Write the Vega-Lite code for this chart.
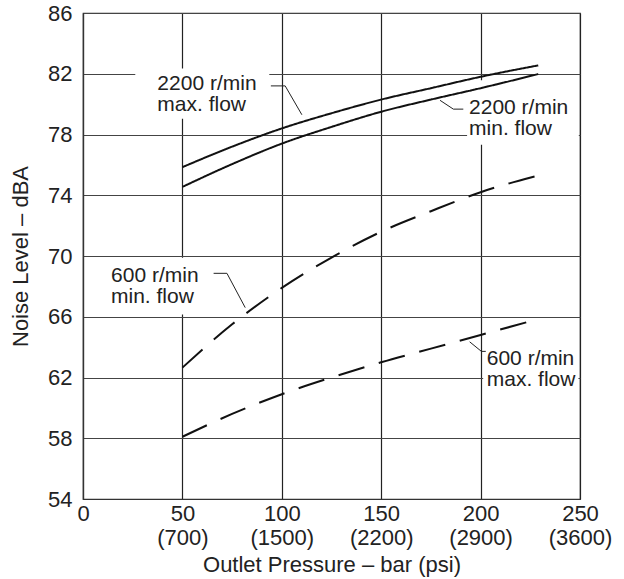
{
  "$schema": "https://vega.github.io/schema/vega-lite/v6.json",
  "width": 497,
  "height": 486,
  "autosize": "none",
  "padding": {"left": 83, "top": 13, "right": 44, "bottom": 80},
  "background": "white",
  "config": {
    "font": "Liberation Sans",
    "view": {"stroke": "#333", "strokeWidth": 1.2},
    "axis": {"labelFont": "Liberation Sans", "titleFont": "Liberation Sans", "labelFontSize": 22, "titleFontSize": 22, "labelColor": "#222", "titleColor": "#222", "titleFontWeight": "normal", "ticks": false, "domainColor": "#333", "domainWidth": 1.2}
  },
  "datasets": {
    "curves": [
      {"s": "2200max", "style": "solid", "p": 50, "db": 75.85},
      {"s": "2200max", "style": "solid", "p": 75, "db": 77.2},
      {"s": "2200max", "style": "solid", "p": 100, "db": 78.4},
      {"s": "2200max", "style": "solid", "p": 125, "db": 79.4},
      {"s": "2200max", "style": "solid", "p": 150, "db": 80.3},
      {"s": "2200max", "style": "solid", "p": 175, "db": 81.05},
      {"s": "2200max", "style": "solid", "p": 200, "db": 81.8},
      {"s": "2200max", "style": "solid", "p": 229, "db": 82.55},
      {"s": "2200min", "style": "solid", "p": 50, "db": 74.55},
      {"s": "2200min", "style": "solid", "p": 75, "db": 76.05},
      {"s": "2200min", "style": "solid", "p": 100, "db": 77.4},
      {"s": "2200min", "style": "solid", "p": 125, "db": 78.5},
      {"s": "2200min", "style": "solid", "p": 150, "db": 79.5},
      {"s": "2200min", "style": "solid", "p": 175, "db": 80.3},
      {"s": "2200min", "style": "solid", "p": 200, "db": 81.05},
      {"s": "2200min", "style": "solid", "p": 229, "db": 81.98},
      {"s": "600min", "style": "dashed", "p": 50, "db": 62.65},
      {"s": "600min", "style": "dashed", "p": 75, "db": 65.5},
      {"s": "600min", "style": "dashed", "p": 100, "db": 67.9},
      {"s": "600min", "style": "dashed", "p": 125, "db": 69.9},
      {"s": "600min", "style": "dashed", "p": 150, "db": 71.6},
      {"s": "600min", "style": "dashed", "p": 175, "db": 72.95},
      {"s": "600min", "style": "dashed", "p": 200, "db": 74.2},
      {"s": "600min", "style": "dashed", "p": 229, "db": 75.3},
      {"s": "600max", "style": "dashed", "p": 50, "db": 58.1},
      {"s": "600max", "style": "dashed", "p": 75, "db": 59.6},
      {"s": "600max", "style": "dashed", "p": 100, "db": 60.9},
      {"s": "600max", "style": "dashed", "p": 125, "db": 62.0},
      {"s": "600max", "style": "dashed", "p": 150, "db": 63.0},
      {"s": "600max", "style": "dashed", "p": 175, "db": 63.9},
      {"s": "600max", "style": "dashed", "p": 200, "db": 64.8},
      {"s": "600max", "style": "dashed", "p": 229, "db": 65.85}
    ],
    "boxes": [
      {"b": 1, "x1": 26.3, "x2": 93.7, "y1": 82.35, "y2": 79.04},
      {"b": 2, "x1": 193.2, "x2": 249.4, "y1": 81.57, "y2": 77.33},
      {"b": 3, "x1": 8.7, "x2": 65.0, "y1": 69.88, "y2": 66.15},
      {"b": 4, "x1": 201.3, "x2": 249.2, "y1": 65.06, "y2": 61.14}
    ],
    "leaders": [
      {"id": 1, "o": 1, "p": 94.5, "db": 81.2},
      {"id": 1, "o": 2, "p": 101.7, "db": 81.2},
      {"id": 1, "o": 3, "p": 110.1, "db": 79.3},
      {"id": 2, "o": 1, "p": 191.3, "db": 79.67},
      {"id": 2, "o": 2, "p": 186.3, "db": 79.67},
      {"id": 2, "o": 3, "p": 179.6, "db": 80.25},
      {"id": 3, "o": 1, "p": 65.7, "db": 68.86},
      {"id": 3, "o": 2, "p": 72.4, "db": 68.86},
      {"id": 3, "o": 3, "p": 81.6, "db": 66.6},
      {"id": 4, "o": 1, "p": 202.6, "db": 63.72},
      {"id": 4, "o": 2, "p": 200.4, "db": 63.72},
      {"id": 4, "o": 3, "p": 194.5, "db": 64.35}
    ],
    "labels": [
      {"t": "2200 r/min\nmax. flow", "p": 37.4, "db": 80.96},
      {"t": "2200 r/min\nmin. flow", "p": 194.2, "db": 79.35},
      {"t": "600 r/min\nmin. flow", "p": 14.1, "db": 68.26},
      {"t": "600 r/min\nmax. flow", "p": 203.1, "db": 62.82}
    ]
  },
  "layer": [
    {
      "data": {"name": "boxes"},
      "mark": {"type": "rect", "color": "white"},
      "encoding": {
        "x": {"field": "x1", "type": "quantitative", "scale": {"domain": [0, 250], "nice": false},
          "axis": {"values": [0, 50, 100, 150, 200, 250], "grid": true, "gridColor": "#222", "gridWidth": 1.2, "gridOpacity": 1, "labelPadding": 4, "labelLineHeight": 24, "labelBaseline": "top", "labelFlush": false, "format": "d",
            "labelExpr": "datum.value == 0 ? '0' : [datum.label, datum.value == 50 ? '(700)' : datum.value == 100 ? '(1500)' : datum.value == 150 ? '(2200)' : datum.value == 200 ? '(2900)' : '(3600)']",
            "title": "Outlet Pressure – bar (psi)", "titleY": 72, "titleBaseline": "alphabetic"}},
        "x2": {"field": "x2"},
        "y": {"field": "y1", "type": "quantitative", "scale": {"domain": [54, 86], "nice": false, "zero": false},
          "axis": {"values": [54, 58, 62, 66, 70, 74, 78, 82, 86], "grid": true, "gridColor": "#444", "gridWidth": 1.2, "gridOpacity": 1, "labelPadding": 11, "labelFlush": false,
            "title": "Noise Level – dBA", "titleX": -63, "titleY": 243, "titleAngle": -90, "titleAlign": "center", "titleBaseline": "middle"}},
        "y2": {"field": "y2"}
      }
    },
    {
      "data": {"name": "curves"},
      "mark": {"type": "line", "color": "#111", "strokeWidth": 2, "interpolate": "monotone"},
      "encoding": {
        "x": {"field": "p", "type": "quantitative"},
        "y": {"field": "db", "type": "quantitative"},
        "detail": {"field": "s"},
        "strokeDash": {"field": "style", "type": "nominal", "scale": {"domain": ["solid", "dashed"], "range": [[1, 0], [27, 15]]}, "legend": null}
      }
    },
    {
      "data": {"name": "leaders"},
      "mark": {"type": "line", "color": "#222", "strokeWidth": 1},
      "encoding": {
        "x": {"field": "p", "type": "quantitative"},
        "y": {"field": "db", "type": "quantitative"},
        "detail": {"field": "id"},
        "order": {"field": "o"}
      }
    },
    {
      "data": {"name": "labels"},
      "mark": {"type": "text", "align": "left", "baseline": "alphabetic", "fontSize": 21, "lineBreak": "\n", "lineHeight": 21, "color": "#222", "font": "Liberation Sans"},
      "encoding": {
        "x": {"field": "p", "type": "quantitative"},
        "y": {"field": "db", "type": "quantitative"},
        "text": {"field": "t"}
      }
    }
  ]
}
